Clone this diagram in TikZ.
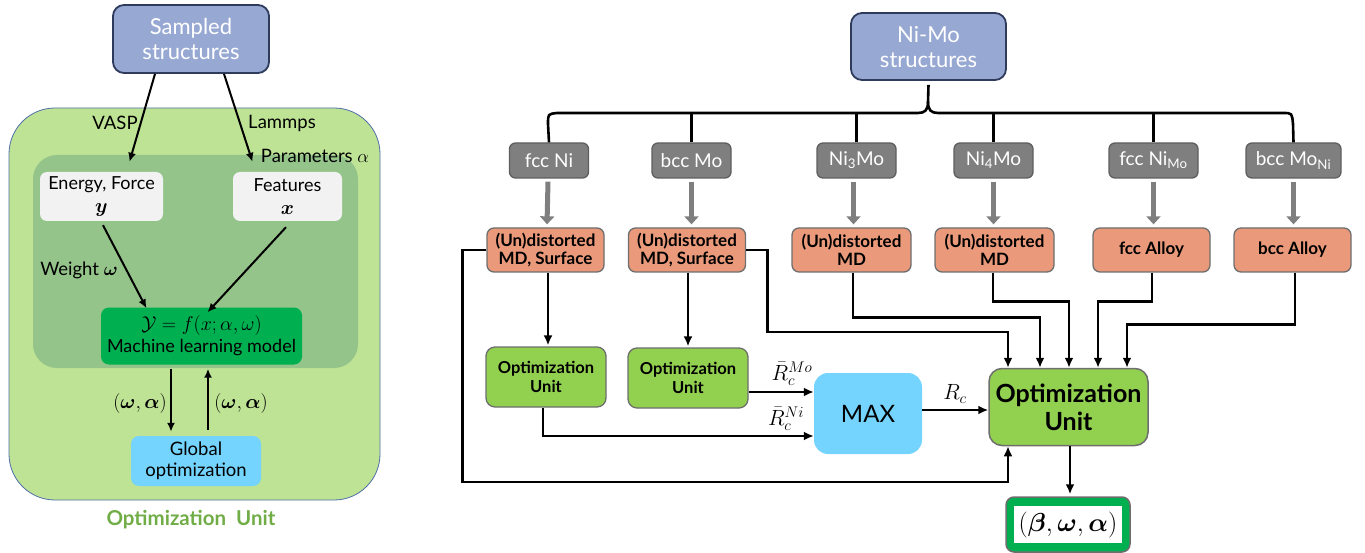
\RequirePackage{fix-cm}
\documentclass[tikz,border=0pt]{standalone}
\usepackage{amsmath,bm}
\usepackage{fontspec}
\setmainfont{Lato}
\usetikzlibrary{arrows.meta,calc}
\definecolor{bluebox}{HTML}{97A8D2}
\definecolor{blueedge}{HTML}{2F3B5C}
\definecolor{outergreen}{HTML}{BEE395}
\definecolor{outeredge}{HTML}{4F6FA8}
\definecolor{innergreen}{HTML}{94C48A}
\definecolor{paleg}{HTML}{F2F2F2}
\definecolor{mlgreen}{HTML}{00B050}
\definecolor{skyb}{HTML}{75D4FD}
\definecolor{greyfill}{HTML}{7F7F7F}
\definecolor{greyedge}{HTML}{5E5E5E}
\definecolor{orangefill}{HTML}{EA9A7A}
\definecolor{boxedge}{HTML}{6E6E6E}
\definecolor{limeg}{HTML}{92D050}
\definecolor{labgreen}{HTML}{70AD47}
\newcommand{\fsz}[1]{\fontsize{#1}{#1}\selectfont}
\begin{document}
\begin{tikzpicture}[x=1pt,y=-1pt,
  bx/.style={rounded corners=8pt, inner sep=0pt, align=center},
  bluenode/.style={bx, fill=bluebox, draw=blueedge, line width=1.8pt, rounded corners=11pt, text=white, font=\fsz{22}, text depth=0pt},
  greynode/.style={bx, fill=greyfill, draw=greyedge, line width=1.3pt, text=white, font=\fsz{19}, minimum height=35pt, rounded corners=6pt},
  orangenode/.style={bx, fill=orangefill, draw=boxedge, line width=1.3pt, font=\bfseries\fsz{17}, minimum height=44pt, rounded corners=7pt},
  ounode/.style={bx, fill=limeg, draw=boxedge, line width=1.3pt, font=\bfseries\fsz{16.5}, minimum width=120pt, minimum height=60pt, rounded corners=9pt},
  palenode/.style={bx, fill=paleg, font=\fsz{18}, minimum height=49pt, rounded corners=7pt},
  lab/.style={font=\fsz{18.5}, inner sep=1pt},
  rlab/.style={font=\fsz{22}, inner sep=0pt},
  arr/.style={line width=2pt, -{Latex[length=9pt,width=8pt]}},
  conn/.style={line width=2.6pt, -{Latex[length=10pt,width=9pt]}},
  plain/.style={line width=2.6pt},
  greyarr/.style={line width=5pt, draw=greyfill, -{Triangle[length=8pt,width=14pt]}}
]
\useasboundingbox (0,0) rectangle (1365,553);

% ---------------- Left panel ----------------
\draw[fill=outergreen, draw=outeredge, line width=0.8pt, rounded corners=46pt] (9,108) rectangle (380,500);
\fill[innergreen, rounded corners=24pt] (33,155) rectangle (358,368);

\node[bluenode, minimum width=156pt, minimum height=68pt] (samp) at (191,39) {Sampled\\[3pt]structures};
\node[palenode, minimum width=123pt] (energy) at (101.5,196.5) {Energy, Force\\[5pt]{\fsz{20}$\bm{y}$}};
\node[palenode, minimum width=109pt] (feat) at (287.5,196.5) {Features\\[5pt]{\fsz{20}$\bm{x}$}};
\node[bx, fill=mlgreen, minimum width=201pt, minimum height=57pt, rounded corners=8pt, font=\fsz{18}] (ml) at (201.5,336) {{\fsz{20}$\mathcal{Y}=f(x;\alpha,\omega)$}\\[3pt]Machine learning model};
\node[bx, fill=skyb, minimum width=130pt, minimum height=50pt, rounded corners=8pt, font=\fsz{18.5}] (glob) at (196,461) {Global\\[3pt]optimization};
\node[font=\bfseries\fsz{20.5}, text=labgreen] (oulab) at (191,520) {Optimization\ \ Unit};

\draw[arr] ([xshift=-36pt]samp.south) -- ([xshift=28pt,yshift=10pt]energy.north);
\draw[arr] ([xshift=33pt]samp.south) -- ([xshift=-35pt,yshift=10pt]feat.north);
\draw[arr] ([xshift=1.5pt,yshift=-4pt]energy.south) -- ([xshift=-55pt,yshift=-1pt]ml.north);
\draw[arr] ([xshift=-1.5pt,yshift=-6pt]feat.south) -- ([xshift=6pt,yshift=-5pt]ml.north);
\draw[arr] ([xshift=-30.5pt,yshift=-4pt]ml.south) -- ([xshift=-25pt,yshift=4pt]glob.north);
\draw[arr] ([xshift=12pt,yshift=6pt]glob.north) -- ([xshift=6.5pt,yshift=-4pt]ml.south);

\node[lab] (vasp) at (115,123) {VASP};
\node[lab] (lammps) at (282,123) {Lammps};
\node[lab] (param) at (315,156) {Parameters $\alpha$};
\node[lab] (weight) at (79,270) {Weight $\bm{\omega}$};
\node[lab, font=\fsz{20}] (wa1) at (140,403) {$(\bm{\omega},\bm{\alpha})$};
\node[lab, font=\fsz{20}] (wa2) at (241,403) {$(\bm{\omega},\bm{\alpha})$};

% ---------------- Right panel ----------------
\node[bluenode, minimum width=155pt, minimum height=67pt] (nimo) at (928.5,46.5) {Ni-Mo\\[3pt]structures};

\node[greynode, minimum width=79pt] (fccni) at (549,160.5) {fcc Ni};
\node[greynode, minimum width=79pt] (bccmo) at (691.5,160.5) {bcc Mo};
\node[greynode, minimum width=79pt] (ni3mo) at (856.5,160.5) {Ni\textsubscript{3}Mo};
\node[greynode, minimum width=79pt] (ni4mo) at (993.5,160.5) {Ni\textsubscript{4}Mo};
\node[greynode, minimum width=89pt] (fccnimo) at (1153.5,160.5) {fcc Ni\textsubscript{Mo}};
\node[greynode, minimum width=95pt] (bccmoni) at (1293.5,160.5) {bcc Mo\textsubscript{Ni}};

\node[orangenode, minimum width=117pt] (o1) at (545.5,250) {(Un)distorted\\[1pt]MD, Surface};
\node[orangenode, minimum width=117pt] (o2) at (687,250) {(Un)distorted\\[1pt]MD, Surface};
\node[orangenode, minimum width=119pt] (o3) at (851.5,250) {(Un)distorted\\[1pt]MD};
\node[orangenode, minimum width=119pt] (o4) at (994.5,250) {(Un)distorted\\[1pt]MD};
\node[orangenode, minimum width=117pt] (o5) at (1151.5,250) {fcc Alloy};
\node[orangenode, minimum width=117pt] (o6) at (1292.5,250) {bcc Alloy};

\node[ounode] (ou1) at (546,377) {Optimization\\[3pt]Unit};
\node[ounode] (ou2) at (688,378) {Optimization\\[3pt]Unit};
\node[bx, fill=skyb, minimum width=108pt, minimum height=81pt, rounded corners=14pt, font=\fsz{24}] (max) at (868,413.5) {MAX};
\node[bx, fill=limeg, draw=boxedge, line width=1.5pt, minimum width=159pt, minimum height=77pt, rounded corners=13pt, font=\bfseries\fsz{25}] (big) at (1068.5,407) {Optimization\\[3pt]Unit};
\node[bx, fill=mlgreen, draw=boxedge, line width=1.5pt, minimum width=124pt, minimum height=55pt, rounded corners=8pt] (out) at (1068,524.5) {};
\node[fill=white, minimum width=108pt, minimum height=37pt, inner sep=0pt, font=\fsz{26}] (outin) at (out.center) {$(\bm{\beta},\bm{\omega},\bm{\alpha})$};

% brace
\coordinate (br) at (928,113);
\draw[plain] (fccni.north) -- (548,124) .. controls (548,114) .. (557,113) -- (918,113)
  .. controls (925,113) and (928,110) .. (928,102) -- ([yshift=-4pt]nimo.south);
\draw[plain] (928,102) .. controls (928,110) and (931,113) .. (938,113) -- (1283,113)
  .. controls (1292,113) .. (1293,124) -- (bccmoni.north);
\draw[plain] (bccmo.north) -- (bccmo.north |- br);
\draw[plain] (ni3mo.north) -- (ni3mo.north |- br);
\draw[plain] (ni4mo.north) -- (ni4mo.north |- br);
\draw[plain] (fccnimo.north) -- (fccnimo.north |- br);

% grey arrows
\draw[greyarr] ([xshift=-1pt,yshift=-3pt]fccni.south) -- ([xshift=1.5pt,yshift=3pt]o1.north);
\draw[greyarr] ([yshift=-3pt]bccmo.south) -- ([xshift=4.5pt,yshift=3pt]o2.north);
\draw[greyarr] ([xshift=-3pt,yshift=-3pt]ni3mo.south) -- ([xshift=2pt,yshift=3pt]o3.north);
\draw[greyarr] ([yshift=-3pt]ni4mo.south) -- ([xshift=-1pt,yshift=3pt]o4.north);
\draw[greyarr] ([yshift=-3pt]fccnimo.south) -- ([xshift=2pt,yshift=3pt]o5.north);
\draw[greyarr] ([yshift=-3pt]bccmoni.south) -- ([xshift=1pt,yshift=3pt]o6.north);

% connectors
\draw[conn] ([xshift=2.5pt]o1.south) -- ([xshift=2pt,yshift=1pt]ou1.north);
\draw[conn] ([xshift=1pt]o2.south) -- ([xshift=0pt,yshift=1pt]ou2.north);
\draw[conn] ([yshift=-14pt]ou2.east) -- ([yshift=-14pt]ou2.east -| max.west);
\draw[conn] ([xshift=-3pt]ou1.south) |- ([yshift=-22.5pt]max.west);
\draw[conn] ([yshift=3.5pt]max.east) -- ([yshift=3.5pt]max.east -| big.west);
\node[rlab] (rmo) at (792,374) {$\bar{R}_c^{Mo}$};
\node[rlab] (rni) at (786,419) {$\bar{R}_c^{Ni}$};
\node[rlab] (rc) at (955,394) {$R_c$};
\draw[conn] (o1.west) -- ++(-24,0) -- ++(0,232) -| ([xshift=-60.5pt]big.south);
\draw[conn] (o2.east) -- ++(21.5,0) -- ++(0,82) -| ([xshift=-60.5pt]big.north);
\draw[conn] ([xshift=1.5pt]o3.south) -- ++(0,45) -| ([xshift=-28.5pt]big.north);
\draw[conn] ([xshift=-1.5pt]o4.south) -- ++(0,29) -| ([xshift=0.5pt]big.north);
\draw[conn] ([xshift=0.5pt]o5.south) -- ++(0,29) -| ([xshift=29.5pt]big.north);
\draw[conn] ([xshift=2.5pt]o6.south) -- ++(0,52) -| ([xshift=58.5pt]big.north);
\draw[conn] ([xshift=1.5pt]big.south) -- ([xshift=2pt,yshift=2pt]out.north);
\end{tikzpicture}
\end{document}
